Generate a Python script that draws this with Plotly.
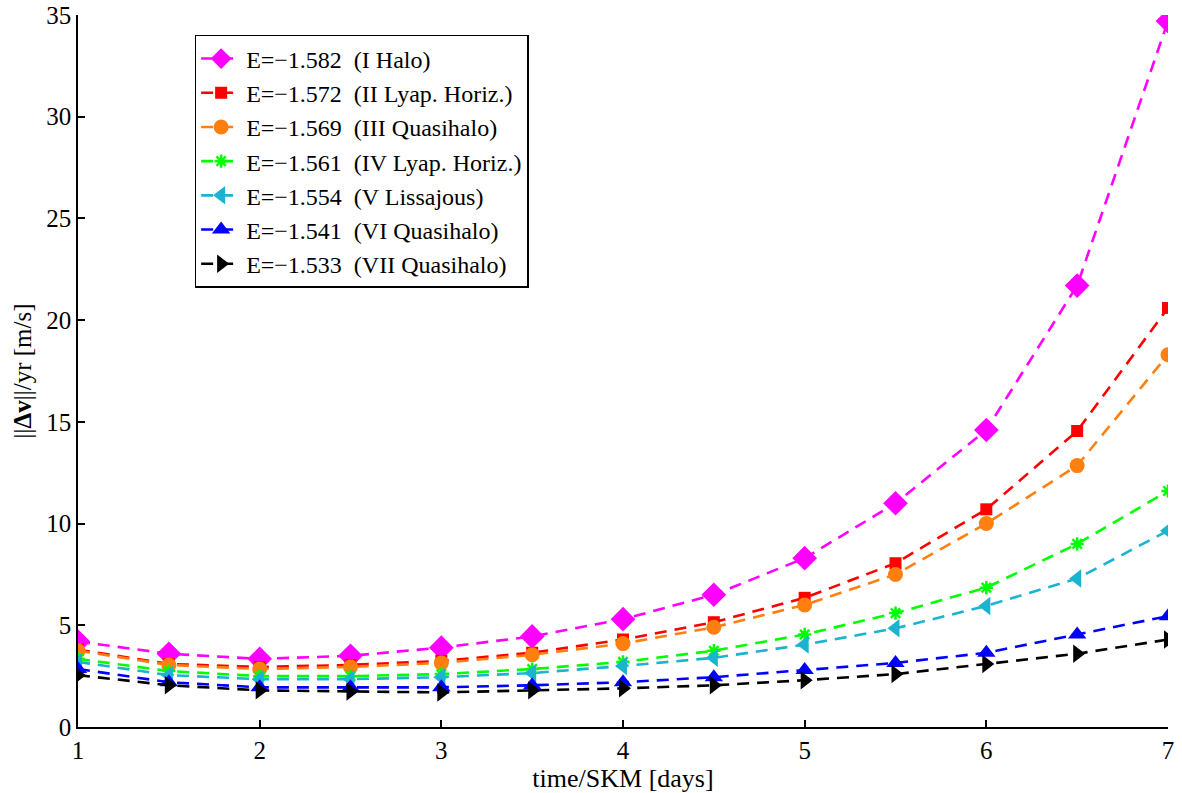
import plotly.graph_objects as go

# Station-keeping time (days) shared by every orbit family
time_days = [1, 1.5, 2, 2.5, 3, 3.5, 4, 4.5, 5, 5.5, 6, 6.5, 7]

# Yearly station-keeping cost ||Δv||/yr [m/s] for each orbit
dv_halo_I = [4.2, 3.6, 3.35, 3.5, 3.9, 4.45, 5.3, 6.5, 8.3, 11.0, 14.6, 21.7, 34.7]
dv_lyap_II = [3.8, 3.1, 2.95, 3.05, 3.25, 3.65, 4.3, 5.15, 6.35, 8.05, 10.7, 14.55, 20.6]
dv_quasi_III = [3.75, 3.05, 2.85, 2.95, 3.15, 3.55, 4.1, 4.9, 6.0, 7.5, 10.0, 12.85, 18.3]
dv_lyap_IV = [3.35, 2.75, 2.5, 2.5, 2.6, 2.85, 3.2, 3.75, 4.55, 5.6, 6.85, 9.0, 11.6]
dv_liss_V = [3.2, 2.55, 2.35, 2.35, 2.45, 2.65, 3.0, 3.4, 4.05, 4.85, 5.95, 7.3, 9.65]
dv_quasi_VI = [2.85, 2.2, 1.95, 1.95, 1.95, 2.05, 2.2, 2.45, 2.8, 3.15, 3.65, 4.55, 5.45]
dv_quasi_VII = [2.55, 2.05, 1.8, 1.75, 1.7, 1.8, 1.9, 2.05, 2.3, 2.6, 3.1, 3.6, 4.3]

series_labels = [
    "E=\u22121.582\u00a0 (I Halo)",
    "E=\u22121.572\u00a0 (II Lyap. Horiz.)",
    "E=\u22121.569\u00a0 (III Quasihalo)",
    "E=\u22121.561\u00a0 (IV Lyap. Horiz.)",
    "E=\u22121.554\u00a0 (V Lissajous)",
    "E=\u22121.541\u00a0 (VI Quasihalo)",
    "E=\u22121.533\u00a0 (VII Quasihalo)",
]
series_values = [dv_halo_I, dv_lyap_II, dv_quasi_III, dv_lyap_IV,
                 dv_liss_V, dv_quasi_VI, dv_quasi_VII]

colors = ["#ff00ff", "#ff0000", "#ff8010", "#00ff00", "#1ab4d0", "#0000ff", "#000000"]
symbols = ["diamond", "square", "circle", "asterisk", "triangle-left",
           "triangle-up", "triangle-right"]
sizes = [19, 12, 15, 11, 16, 16, 16]

fig = go.Figure()
for label, vals, col, sym, sz in zip(series_labels, series_values, colors, symbols, sizes):
    marker = dict(symbol=sym, size=sz, color=col, line=dict(width=0, color=col))
    if sym == "asterisk":
        marker["line"] = dict(width=2.5, color=col)
    fig.add_trace(go.Scatter(
        x=time_days, y=vals, name=label, mode="lines+markers",
        line=dict(color=col, width=2.6, dash="12px,8px"),
        marker=marker,
    ))

serif = "Liberation Serif"
fig.update_layout(
    width=1182, height=793,
    margin=dict(l=78, r=14, t=15, b=66),
    plot_bgcolor="white", paper_bgcolor="white",
    font=dict(family=serif, size=25, color="black"),
    showlegend=True,
    legend=dict(
        x=0.107, y=0.972, xanchor="left", yanchor="top",
        bgcolor="white", bordercolor="black", borderwidth=1.5,
        font=dict(family=serif, size=24, color="black"),
        itemwidth=40,
    ),
    xaxis=dict(
        range=[1, 7], tickvals=[1, 2, 3, 4, 5, 6, 7],
        ticks="inside", ticklen=7, tickwidth=1.5, tickcolor="black",
        showline=True, linecolor="black", linewidth=1.5,
        showgrid=False, zeroline=False, automargin=False,
        tickfont=dict(family=serif, size=25),
        title=dict(text="time/SKM [days]", font=dict(family=serif, size=26), standoff=0),
    ),
    yaxis=dict(
        range=[0, 35], tickvals=[0, 5, 10, 15, 20, 25, 30, 35],
        ticks="inside", ticklen=7, tickwidth=1.5, tickcolor="black",
        showline=True, linecolor="black", linewidth=1.5,
        showgrid=False, zeroline=False, automargin=False,
        tickfont=dict(family=serif, size=25),
        title=dict(text="||<b>\u0394v</b>||/yr [m/s]", font=dict(family=serif, size=25), standoff=8),
    ),
)

fig.write_html("out.html")
